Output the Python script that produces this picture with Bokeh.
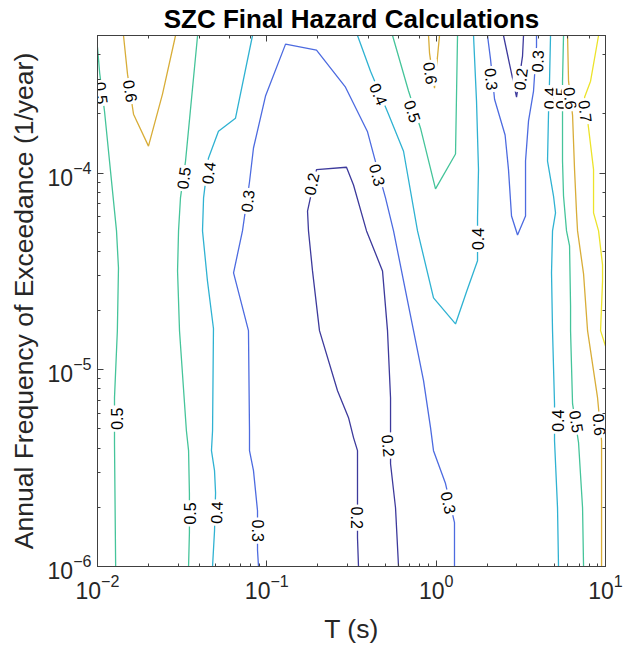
from bokeh.plotting import figure
from bokeh.models import LogAxis, Range1d, ColumnDataSource
from bokeh.core.properties import value
from bokeh.embed import file_html
from bokeh.resources import INLINE

# ---------------- data (T in s, AFE in 1/year) ----------------
# contour level 0.5, left line
c05_a_T = [0.0100, 0.0103, 0.0110, 0.01295, 0.0133, 0.0131, 0.0126, 0.0126, 0.0128]
c05_a_AFE = [4.36e-4, 3.22e-4, 2.06e-4, 5.08e-5, 3.29e-5, 1.58e-5, 7.21e-6, 4.21e-6, 1.0e-6]
# level 0.6, left V
c06_a_T = [0.01424, 0.01504, 0.01632, 0.0200, 0.0242, 0.0289]
c06_a_AFE = [5.0e-4, 3.18e-4, 1.99e-4, 1.37e-4, 2.52e-4, 5.0e-4]
# level 0.5, second line
c05_b_T = [0.0390, 0.0331, 0.0309, 0.0301, 0.0297, 0.0305, 0.0335, 0.0345, 0.0349, 0.0349, 0.0345]
c05_b_AFE = [5.0e-4, 1.15e-4, 7.47e-5, 5.08e-5, 3.18e-5, 1.58e-5, 4.90e-6, 3.88e-6, 2.35e-6, 1.49e-6, 1.0e-6]
# level 0.4, left line
c04_a_T = [0.0823, 0.0653, 0.0518, 0.0452, 0.0423, 0.0417, 0.0446, 0.0484, 0.0478, 0.0471, 0.0491, 0.0498, 0.0491, 0.0478]
c04_a_AFE = [5.0e-4, 1.90e-4, 1.63e-4, 1.19e-4, 7.47e-5, 5.08e-5, 2.83e-5, 1.62e-5, 4.90e-6, 3.88e-6, 3.07e-6, 2.37e-6, 1.52e-6, 1.0e-6]
# level 0.3, large arch
c03_a_T = [0.0893, 0.0881, 0.0881, 0.0834, 0.0790, 0.0790, 0.0779, 0.0636, 0.0718, 0.0790, 0.0834, 0.0982, 0.129, 0.1965,
           0.2914, 0.3932, 0.4325, 0.5022, 0.5601, 0.6416, 0.735, 0.8422, 0.9262, 0.9645, 1.1355, 1.283, 1.283]
c03_a_AFE = [1.0e-6, 1.21e-6, 1.92e-6, 3.07e-6, 3.88e-6, 4.90e-6, 1.58e-5, 3.11e-5, 5.08e-5, 9.00e-5, 1.34e-4, 2.46e-4, 4.52e-4, 4.21e-4,
             2.73e-4, 1.62e-4, 1.19e-4, 7.47e-5, 5.08e-5, 2.83e-5, 1.58e-5, 8.80e-6, 5.08e-6, 3.88e-6, 2.64e-6, 1.67e-6, 1.0e-6]
# level 0.2, arch
c02_a_T = [0.3478, 0.3431, 0.3431, 0.3431, 0.325, 0.3037, 0.2615, 0.2046, 0.1861, 0.1762, 0.1739, 0.1965, 0.2954, 0.325,
           0.3879, 0.4821, 0.516, 0.5377, 0.5377, 0.5377, 0.5754, 0.5994]
c02_a_AFE = [1.0e-6, 1.40e-6, 2.24e-6, 3.88e-6, 4.52e-6, 5.71e-6, 7.82e-6, 1.58e-5, 3.18e-5, 5.08e-5, 6.41e-5, 1.04e-4, 1.07e-4, 8.69e-5,
             5.08e-5, 3.18e-5, 1.58e-5, 7.21e-6, 5.08e-6, 3.33e-6, 1.99e-6, 1.0e-6]
# level 0.4, middle V
c04_b_T = [0.3431, 0.4096, 0.5231, 0.6416, 0.776, 0.9645, 1.301, 1.511, 1.755, 1.755, 1.778, 1.731, 1.662]
c04_b_AFE = [5.0e-4, 3.29e-4, 1.99e-4, 1.29e-4, 5.08e-5, 2.32e-5, 1.71e-5, 2.49e-5, 3.58e-5, 5.91e-5, 1.04e-4, 2.32e-4, 5.0e-4]
# level 0.5, middle V
c05_c_T = [0.5525, 0.6867, 0.8084, 0.9912, 1.301, 1.337]
c05_c_AFE = [5.0e-4, 2.61e-4, 1.69e-4, 8.30e-5, 1.25e-4, 5.0e-4]
# level 0.6, small V
c06_b_T = [0.9014, 0.9137, 0.9777, 1.0466]
c06_b_AFE = [5.0e-4, 4.07e-4, 2.70e-4, 5.0e-4]
# level 0.3, right V
c03_b_T = [2.010, 2.094, 2.212, 2.553, 2.674, 2.786, 3.024, 3.371, 3.371, 3.511, 3.758, 3.914, 3.914]
c03_b_AFE = [5.0e-4, 3.79e-4, 2.37e-4, 1.56e-4, 1.04e-4, 6.05e-5, 4.84e-5, 6.05e-5, 1.15e-4, 1.84e-4, 2.61e-4, 4.41e-4, 5.0e-4]
# level 0.2, right small V
c02_b_T = [2.498, 2.983, 3.236, 3.280]
c02_b_AFE = [5.0e-4, 2.43e-4, 3.93e-4, 5.0e-4]
# level 0.4, right line
c04_c_T = [4.735, 4.671, 4.608, 4.546, 4.932, 5.068, 4.866, 4.800, 4.866, 5.0, 5.0, 5.208, 5.279]
c04_c_AFE = [5.0e-4, 2.93e-4, 2.02e-4, 1.15e-4, 7.64e-5, 6.27e-5, 5.08e-5, 3.11e-5, 1.58e-5, 6.72e-6, 4.36e-6, 1.99e-6, 1.0e-6]
# level 0.5, right line
c05_d_T = [5.651, 5.574, 5.574, 5.574, 5.651, 5.886, 6.134, 6.218, 6.218, 6.389, 6.932, 7.32, 7.42]
c05_d_AFE = [5.0e-4, 2.93e-4, 1.97e-4, 1.15e-4, 7.64e-5, 5.08e-5, 4.26e-5, 2.11e-5, 1.58e-5, 6.72e-6, 4.26e-6, 1.99e-6, 1.0e-6]
# level 0.6, right line
c06_c_T = [5.969, 6.050, 6.389, 6.565, 6.745, 6.838, 7.42, 7.835, 8.975, 9.478, 9.478]
c06_c_AFE = [5.0e-4, 2.93e-4, 1.97e-4, 1.04e-4, 6.27e-5, 5.08e-5, 3.07e-5, 1.58e-5, 7.21e-6, 4.36e-6, 1.0e-6]
# level 0.7, right line
c07_a_T = [9.1, 8.161, 7.522, 7.943, 8.5, 8.5, 9.1, 9.607, 9.607, 9.35, 10.0]
c07_a_AFE = [5.0e-4, 2.93e-4, 2.43e-4, 1.69e-4, 1.04e-4, 6.27e-5, 5.08e-5, 3.41e-5, 2.83e-5, 1.58e-5, 1.32e-5]

contours = [
    (0.5, c05_a_T, c05_a_AFE), (0.6, c06_a_T, c06_a_AFE), (0.5, c05_b_T, c05_b_AFE),
    (0.4, c04_a_T, c04_a_AFE), (0.3, c03_a_T, c03_a_AFE), (0.2, c02_a_T, c02_a_AFE),
    (0.4, c04_b_T, c04_b_AFE), (0.5, c05_c_T, c05_c_AFE), (0.6, c06_b_T, c06_b_AFE),
    (0.3, c03_b_T, c03_b_AFE), (0.2, c02_b_T, c02_b_AFE), (0.4, c04_c_T, c04_c_AFE),
    (0.5, c05_d_T, c05_d_AFE), (0.6, c06_c_T, c06_c_AFE), (0.7, c07_a_T, c07_a_AFE),
]

# contour labels
label_text = ["0.5", "0.6", "0.5", "0.4", "0.3", "0.2", "0.3", "0.4", "0.5", "0.6", "0.4", "0.3", "0.2", "0.3",
              "0.4", "0.5", "0.6", "0.7", "0.5", "0.5", "0.4", "0.3", "0.2", "0.2", "0.3", "0.4", "0.5", "0.6"]
label_T = [0.01056, 0.01566, 0.0322, 0.0452, 0.0769, 0.1836, 0.4505, 0.4567, 0.7251, 0.9262, 1.755, 2.123, 3.15, 3.967,
           4.671, 5.499, 6.218, 7.62, 0.01295, 0.0354, 0.0504, 0.0881, 0.3385, 0.5231, 1.183, 5.208, 6.745, 9.225]
label_AFE = [2.55e-4, 2.61e-4, 9.43e-5, 1.0e-4, 7.21e-5, 8.79e-5, 9.77e-5, 2.52e-4, 2.06e-4, 3.22e-4, 4.62e-5, 3.0e-4, 3.0e-4, 3.70e-4,
             2.40e-4, 2.40e-4, 2.40e-4, 2.06e-4, 5.64e-6, 1.86e-6, 1.88e-6, 1.52e-6, 1.77e-6, 4.11e-6, 2.11e-6, 5.51e-6, 5.45e-6, 5.26e-6]

# ---------------- style ----------------
LEVEL_COLORS = {0.2: "#3d3a9c", 0.3: "#4d6be0", 0.4: "#2fb2d2", 0.5: "#45c49a", 0.6: "#d8ad38", 0.7: "#ece32a"}
label_angle = [-83, -81, 82, 83, 84, 78, -75, -67, -72, -82, 90, -84, 82, 88,
               88, 90, -83, -83, 90, 90, 88, -90, -90, -85, -77, 90, -81, -84]
FONT = "Liberation Sans"
AX = "#404040"

p = figure(width=625, height=647, x_axis_type="log", y_axis_type="log",
           x_range=Range1d(0.01, 10), y_range=Range1d(1e-6, 5e-4),
           output_backend="svg", toolbar_location=None,
           title="SZC Final Hazard Calculations",
           min_border_left=97, min_border_right=20, min_border_top=35, min_border_bottom=81)
p.title.align = "center"
p.title.text_font = FONT
p.title.text_font_size = "26px"
p.title.text_font_style = "bold"
p.title.text_color = "black"
p.title.standoff = 3
p.grid.visible = False
p.outline_line_color = AX
p.background_fill_color = "white"
p.border_fill_color = "white"

for ax in (p.xaxis[0], p.yaxis[0]):
    ax.axis_line_color = AX
    ax.major_tick_line_color = AX
    ax.minor_tick_line_color = AX
    ax.major_tick_in = 6
    ax.major_tick_out = 0
    ax.minor_tick_in = 3
    ax.minor_tick_out = 0
    ax.major_label_text_font = FONT
    ax.major_label_text_font_size = "23px"
    ax.major_label_text_color = "#262626"
    ax.axis_label_text_font = FONT
    ax.axis_label_text_font_size = "26.5px"
    ax.axis_label_text_font_style = "normal"
    ax.axis_label_text_color = "#262626"
p.xaxis.axis_label = "T (s)"
p.yaxis.axis_label = "Annual Frequency of Exceedance (1/year)"
p.xaxis.major_label_standoff = 7
p.yaxis.major_label_standoff = 6
p.xaxis.axis_label_standoff = 12
p.yaxis.axis_label_standoff = 6

for side in ("above", "right"):
    extra = LogAxis(axis_label=None, major_label_text_font_size="1px", major_label_text_alpha=0,
                    major_label_standoff=0,
                    axis_line_color=AX, major_tick_line_color=AX, minor_tick_line_color=AX,
                    major_tick_in=6, major_tick_out=0, minor_tick_in=3, minor_tick_out=0)
    p.add_layout(extra, side)

for lvl, ts, afes in contours:
    p.line(ts, afes, line_color=LEVEL_COLORS[lvl], line_width=1.3)

src = ColumnDataSource(dict(x=label_T, y=label_AFE, text=label_text, angle=label_angle))
p.text(x="x", y="y", text="text", angle="angle", angle_units="deg", source=src,
       text_align="center", text_baseline="middle", text_font=value(FONT), text_font_size="16px",
       text_color="black", background_fill_color="white", padding=2)

open("out.html", "w").write(file_html(p, INLINE))
